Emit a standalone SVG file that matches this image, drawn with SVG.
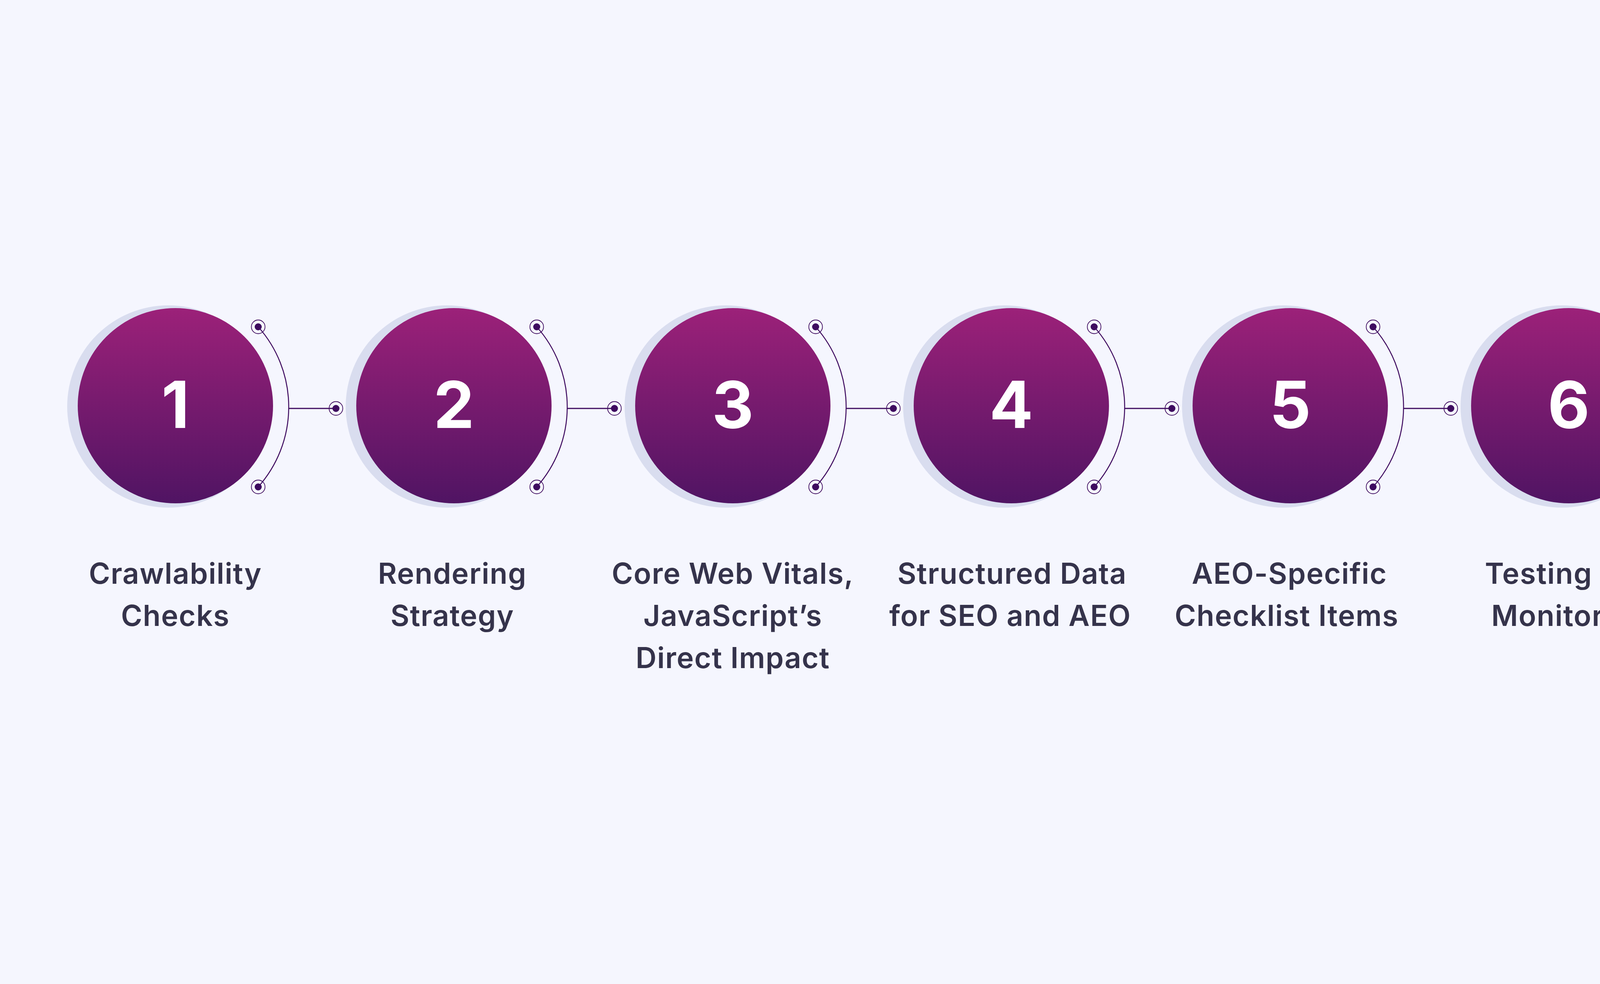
<svg xmlns="http://www.w3.org/2000/svg" width="4480" height="2520" viewBox="0 0 4480 2520">
<defs>
<linearGradient id="g" x1="0" y1="0" x2="0" y2="1">
<stop offset="0" stop-color="#9c2179"/>
<stop offset="1" stop-color="#501463"/>
</linearGradient>
<style>
.sh{fill:#d9ddef}
.c{fill:url(#g)}
.num{font-family:Inter,"Liberation Sans",sans-serif;font-weight:700;font-size:166px;fill:#ffffff;text-anchor:middle}
.lbl{font-family:Inter,"Liberation Sans",sans-serif;font-weight:600;font-size:74px;letter-spacing:1.5px;fill:#35334b;text-anchor:middle}
.arc{fill:none;stroke:#3e0b5f;stroke-width:2.5}
.ln{stroke:#3e0b5f;stroke-width:3}
.ring{fill:none;stroke:#3e0b5f;stroke-width:1.8}
.dot{fill:#3e0b5f}
</style>
<g id="pin">
<circle class="ring" r="17.5"/>
<circle class="dot" r="9"/>
</g>
</defs>
<rect width="4480" height="2520" fill="#f5f6fe"/>

<g id="connectors">
<path class="arc" d="M661 837 A308 308 0 0 1 661 1247"/>
<line class="ln" x1="739" y1="1046" x2="860" y2="1046"/>
<path class="arc" d="M1374 837 A308 308 0 0 1 1374 1247"/>
<line class="ln" x1="1452" y1="1046" x2="1573" y2="1046"/>
<path class="arc" d="M2088 837 A308 308 0 0 1 2088 1247"/>
<line class="ln" x1="2166" y1="1046" x2="2287" y2="1046"/>
<path class="arc" d="M2801 837 A308 308 0 0 1 2801 1247"/>
<line class="ln" x1="2879" y1="1046" x2="3000" y2="1046"/>
<path class="arc" d="M3515 837 A308 308 0 0 1 3515 1247"/>
<line class="ln" x1="3593" y1="1046" x2="3714" y2="1046"/>
<path class="arc" d="M4228 837 A308 308 0 0 1 4228 1247"/>
<use href="#pin" x="661" y="837"/><use href="#pin" x="661" y="1247"/><use href="#pin" x="860" y="1046"/>
<use href="#pin" x="1374" y="837"/><use href="#pin" x="1374" y="1247"/><use href="#pin" x="1573" y="1046"/>
<use href="#pin" x="2088" y="837"/><use href="#pin" x="2088" y="1247"/><use href="#pin" x="2287" y="1046"/>
<use href="#pin" x="2801" y="837"/><use href="#pin" x="2801" y="1247"/><use href="#pin" x="3000" y="1046"/>
<use href="#pin" x="3515" y="837"/><use href="#pin" x="3515" y="1247"/><use href="#pin" x="3714" y="1046"/>
<use href="#pin" x="4228" y="837"/><use href="#pin" x="4228" y="1247"/>
</g>

<g id="node1">
<circle class="sh" cx="431" cy="1041" r="259"/>
<circle class="c" cx="449" cy="1039" r="250"/>
<text class="num" x="449" y="1096">1</text>
<text class="lbl" x="449" y="1495">Crawlability</text>
<text class="lbl" x="449" y="1603">Checks</text>
</g>
<g id="node2">
<circle class="sh" cx="1144" cy="1041" r="259"/>
<circle class="c" cx="1162" cy="1039" r="250"/>
<text class="num" x="1162" y="1096">2</text>
<text class="lbl" x="1158" y="1495">Rendering</text>
<text class="lbl" x="1158" y="1603">Strategy</text>
</g>
<g id="node3">
<circle class="sh" cx="1858" cy="1041" r="259"/>
<circle class="c" cx="1876" cy="1039" r="250"/>
<text class="num" x="1876" y="1096">3</text>
<text class="lbl" x="1876" y="1495">Core Web Vitals,</text>
<text class="lbl" x="1876" y="1603">JavaScript’s</text>
<text class="lbl" x="1876" y="1711">Direct Impact</text>
</g>
<g id="node4">
<circle class="sh" cx="2571" cy="1041" r="259"/>
<circle class="c" cx="2589" cy="1039" r="250"/>
<text class="num" x="2589" y="1096">4</text>
<text class="lbl" x="2591" y="1495">Structured Data</text>
<text class="lbl" x="2586" y="1603">for SEO and AEO</text>
</g>
<g id="node5">
<circle class="sh" cx="3285" cy="1041" r="259"/>
<circle class="c" cx="3303" cy="1039" r="250"/>
<text class="num" x="3303" y="1096">5</text>
<text class="lbl" x="3301" y="1495">AEO-Specific</text>
<text class="lbl" x="3294" y="1603">Checklist Items</text>
</g>
<g id="node6">
<circle class="sh" cx="3998" cy="1041" r="259"/>
<circle class="c" cx="4016" cy="1039" r="250"/>
<text class="num" x="4016" y="1096">6</text>
<text class="lbl" x="4018" y="1495">Testing and</text>
<text class="lbl" x="4020" y="1603">Monitoring</text>
</g>
</svg>
